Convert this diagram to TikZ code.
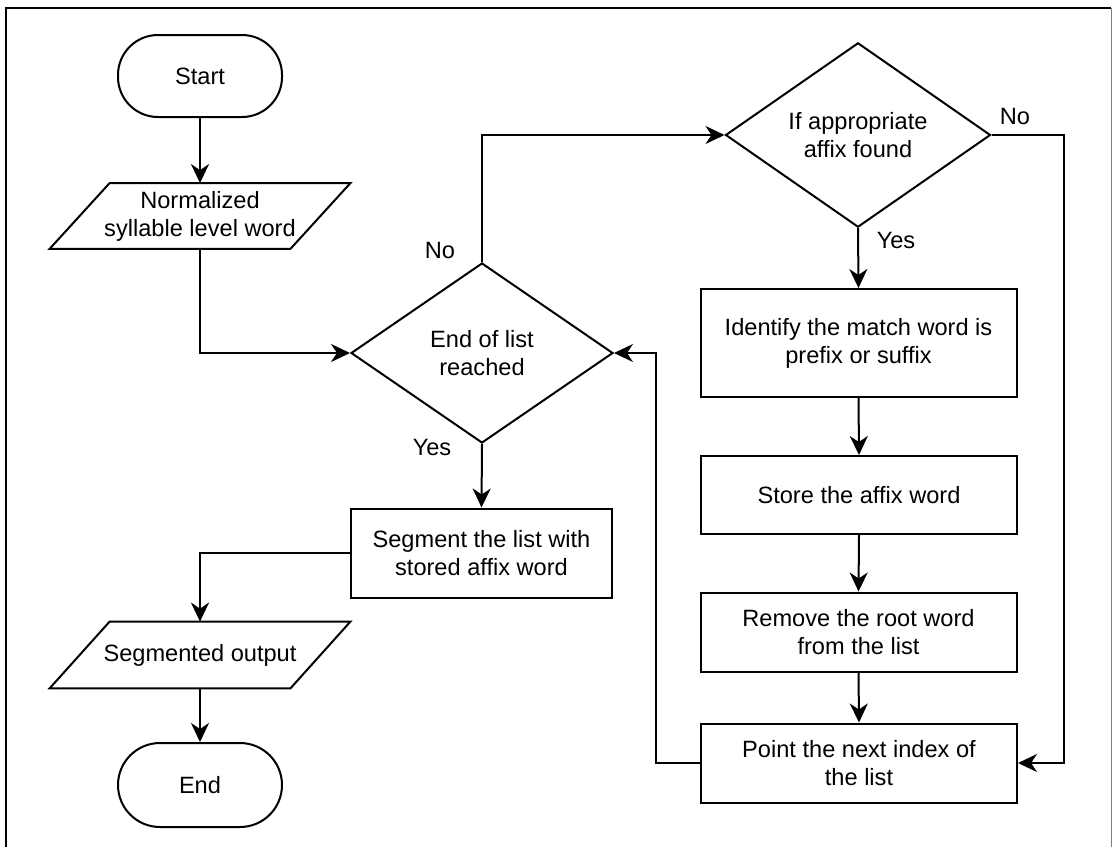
\documentclass[tikz,border=0pt]{standalone}
\usepackage{fontspec}
\setmainfont{Liberation Sans}
\usetikzlibrary{shapes.geometric,arrows.meta,calc}
\begin{document}
\begin{tikzpicture}[x=0.5pt,y=-0.5pt,
  font=\fontsize{11.8}{14}\selectfont,
  base/.style={draw=black,line width=1pt,align=center,inner sep=0pt},
  term/.style={base,rectangle,rounded corners=20pt,minimum width=82pt,minimum height=41pt},
  procbox/.style={base,rectangle,minimum width=158pt},
  decide/.style={base,diamond},
  iobox/.style={align=center,inner sep=0pt,minimum width=120pt},
  para/.style={line width=1pt,line join=miter},
  conn/.style={line width=1pt,-{Stealth[length=9.5pt,width=9pt,inset=3pt]}},
  plain/.style={line width=1pt},
  lbl/.style={inner sep=0pt}
]
\useasboundingbox (0,0) rectangle (1112,847);
% frame
\draw[line width=1pt] (6,847) -- (6,8) -- (1111,8);
\draw[gray,line width=0.5pt] (1111,8) -- (1111,847);

% nodes
\node[term] (start) at (200,76) {Start};
\node[iobox,minimum height=32.5pt] (norm) at (200,216) {Normalized\\syllable level word};
\draw[para] ($(norm.north west)+(30,0)$) -- ($(norm.north east)+(30,0)$) -- ($(norm.south east)+(-30,0)$) -- ($(norm.south west)+(-30,0)$) -- cycle;
\node[decide,minimum width=131pt,minimum height=90pt] (d1) at (482,353) {End of list\\reached};
\node[decide,minimum width=132.5pt,minimum height=92pt] (d2) at (858,135) {If appropriate\\affix found};
\node[procbox,minimum height=54pt] (ident) at (858.5,343) {Identify the match word is\\prefix or suffix};
\node[procbox,minimum height=39pt] (store) at (859,495) {Store the affix word};
\node[procbox,minimum height=39.5pt] (remove) at (858.5,632) {Remove the root word\\from the list};
\node[procbox,minimum height=39.5pt] (point) at (859,763) {Point the next index of\\the list};
\node[base,rectangle,minimum width=130.5pt,minimum height=44.5pt] (seg) at (481.5,553) {Segment the list with\\stored affix word};
\node[iobox,minimum height=33pt] (segout) at (200,655) {Segmented output};
\draw[para] ($(segout.north west)+(30,0)$) -- ($(segout.north east)+(30,0)$) -- ($(segout.south east)+(-30,0)$) -- ($(segout.south west)+(-30,0)$) -- cycle;
\node[term,minimum height=42pt,rounded corners=21pt] (end) at (200,785) {End};

% labels
\node[lbl] (no1) at (440,250) {No};
\node[lbl] (yes1) at (432,447) {Yes};
\node[lbl] (no2) at (1015,116) {No};
\node[lbl] (yes2) at (896,240) {Yes};

% connectors
\draw[conn] (start.south) -- (norm.north);
\draw[conn] (norm.south) |- (d1.west);
\draw[conn] (d1.north) |- (d2.west);
\draw[conn] (d2.south) -- (ident.north);
\draw[conn] (ident.south) -- (store.north);
\draw[conn] (store.south) -- (remove.north);
\draw[conn] (remove.south) -- (point.north);
\draw[conn] (d2.east) -- ++(72,0) |- (point.east);
\draw[conn] (point.west) -- ++(-44,0) |- (d1.east);
\draw[conn] (d1.south) -- (seg.north);
\draw[conn] (seg.west) -| (segout.north);
\draw[conn] (segout.south) -- (end.north);
\end{tikzpicture}
\end{document}
